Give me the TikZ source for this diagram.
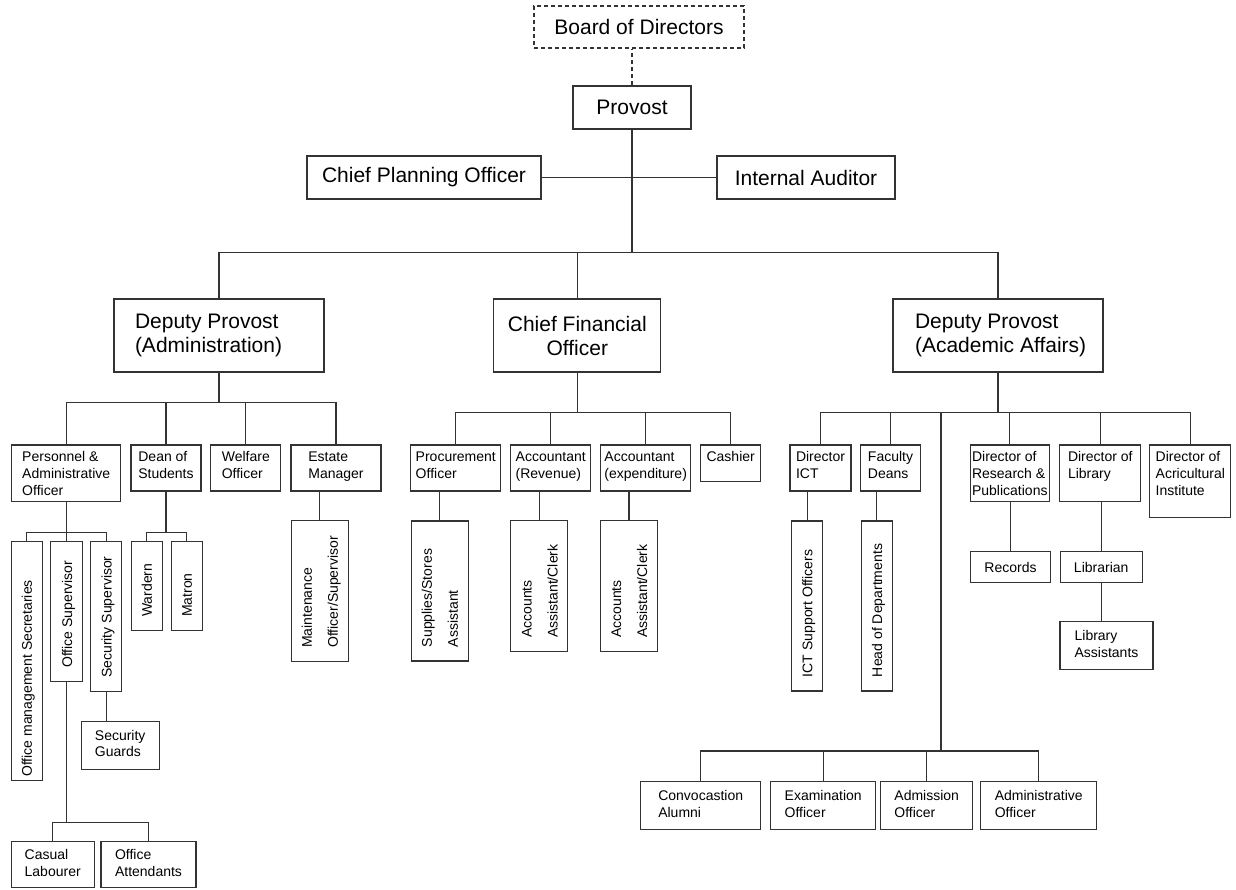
\documentclass[tikz,border=0pt]{standalone}
\usepackage{fontspec}
\setmainfont{Liberation Sans}
\definecolor{linegray}{HTML}{333333}
\newcommand{\orgbig}{\fontsize{21}{24}\selectfont}
\newcommand{\orgsmall}{\fontsize{14}{16.7}\selectfont}
\newcommand{\boxlines}[1]{\begin{tabular}[t]{@{}l@{}}#1\end{tabular}}
\newcommand{\vtext}[2]{\rotatebox{90}{\makebox[#1][l]{\renewcommand{\arraystretch}{1.557}\begin{tabular}{@{}l@{}}#2\end{tabular}}}}

\begin{document}
\begin{tikzpicture}[
  x=1pt, y=-1pt,
  link/.style={draw=linegray, line width=1.3pt},
  box/.style={draw=linegray, line width=1.3pt, inner sep=0pt, font=\orgbig},
  sbox/.style={draw=linegray, line width=1.3pt, inner sep=0pt, font=\orgsmall},
  topbox/.style={sbox, inner ysep=5pt, text height=11.7pt, text depth=#1}
]
  \useasboundingbox (0,0) rectangle (1236,889);

  % top of the chart
  \node[box, dash pattern=on 4pt off 3pt, minimum width=210pt, minimum height=42pt] (board) at (639,27) {Board of Directors};
  \node[box, minimum width=118pt, minimum height=43pt] (provost) at (632,107.5) {Provost};
  \node[box, minimum width=234pt, minimum height=43pt] (planning) at (424,177.5) {Chief Planning Officer};
  \node[box, minimum width=178pt, minimum height=43pt] (auditor) at (806,177.5) {Internal Auditor};
  \node[box, minimum width=210pt, minimum height=73pt] (dpadmin) at (219,335.5) {\makebox[168pt][l]{\boxlines{Deputy Provost\\(Administration)}}};
  \node[box, align=center, minimum width=167pt, minimum height=73pt] (cfo) at (577.3,335.5) {Chief Financial\\Officer};
  \node[box, minimum width=210pt, minimum height=73pt] (dpacad) at (998,335.5) {\makebox[166pt][l]{\boxlines{Deputy Provost\\(Academic Affairs)}}};

  % administration
  \node[topbox=35pt, minimum width=109pt] (personnel) at (66.2,473.3) {\boxlines{Personnel \&\\Administrative\\Officer}};
  \node[topbox=24.3pt, minimum width=70pt] (dean) at (166,468) {\boxlines{Dean of\\Students}};
  \node[topbox=24.3pt, minimum width=70pt] (welfare) at (245.8,468) {\boxlines{Welfare\\Officer}};
  \node[topbox=24.3pt, minimum width=90pt] (estate) at (336,468) {\boxlines{Estate\\Manager}};
  \node[sbox, minimum width=31pt, minimum height=239pt] (secretaries) at (26.7,661.2) {\vtext{231pt}{Office management Secretaries}};
  \node[sbox, minimum width=32pt, minimum height=140pt] (officesup) at (66.8,611.7) {\vtext{112pt}{Office Supervisor}};
  \node[sbox, minimum width=31pt, minimum height=150pt] (securitysup) at (106.3,616.7) {\vtext{122pt}{Security Supervisor}};
  \node[sbox, minimum width=31pt, minimum height=89pt] (wardern) at (146.7,586.3) {\vtext{61pt}{Wardern}};
  \node[sbox, minimum width=31pt, minimum height=89pt] (matron) at (186.7,586.3) {\vtext{61pt}{Matron}};
  \node[sbox, minimum width=57pt, minimum height=141pt] (maintenance) at (319.7,591.3) {\vtext{113pt}{Maintenance\\Officer/Supervisor}};
  \node[sbox, minimum width=78pt, minimum height=48pt] (guards) at (120.2,745.2) {\boxlines{Security\\Guards}};
  \node[sbox, minimum width=83pt, minimum height=46pt] (casual) at (52.7,864.8) {\boxlines{Casual\\Labourer}};
  \node[sbox, minimum width=95pt, minimum height=46pt] (attendants) at (148.5,864.8) {\boxlines{Office\\Attendants}};

  % finance
  \node[topbox=24.3pt, minimum width=90pt] (procurement) at (455.8,468) {\boxlines{Procurement\\Officer}};
  \node[topbox=24.3pt, minimum width=80pt] (revenue) at (550.7,468) {\boxlines{Accountant\\(Revenue)}};
  \node[topbox=24.3pt, minimum width=90pt] (expenditure) at (645.7,468) {\boxlines{Accountant\\(expenditure)}};
  \node[topbox=15pt, minimum width=60pt] (cashier) at (730.7,463.3) {\boxlines{Cashier}};
  \node[sbox, minimum width=57pt, minimum height=140pt] (stores) at (439.7,591) {\vtext{112pt}{Supplies/Stores\\Assistant}};
  \node[sbox, minimum width=57pt, minimum height=131pt] (clerkrev) at (539.3,586.3) {\vtext{103pt}{Accounts\\Assistant/Clerk}};
  \node[sbox, minimum width=57pt, minimum height=131pt] (clerkexp) at (629,586.3) {\vtext{103pt}{Accounts\\Assistant/Clerk}};

  % academic affairs
  \node[topbox=24.3pt, minimum width=61pt] (ict) at (820.5,468) {\boxlines{Director\\ICT}};
  \node[topbox=24.3pt, minimum width=60pt] (deans) at (890.5,468) {\boxlines{Faculty\\Deans}};
  \node[topbox=35pt, minimum width=79pt] (research) at (1009.8,473.3) {\boxlines{Director of\\Research \&\\Publications}};
  \node[topbox=35pt, minimum width=81pt] (library) at (1100.3,473.3) {\boxlines{Director of\\Library}};
  \node[topbox=51pt, minimum width=81pt] (agric) at (1190.3,481.3) {\boxlines{Director of\\Acricultural\\Institute}};
  \node[sbox, minimum width=31pt, minimum height=170pt] (ictsupport) at (807.2,606) {\vtext{142pt}{ICT Support Officers}};
  \node[sbox, minimum width=31pt, minimum height=170pt] (heads) at (876.8,606) {\vtext{142pt}{Head of Departments}};
  \node[sbox, minimum width=80pt, minimum height=31pt] (records) at (1010.5,567) {Records};
  \node[sbox, minimum width=82pt, minimum height=31pt] (librarian) at (1101.2,567) {Librarian};
  \node[sbox, minimum width=93pt, minimum height=48pt] (libassist) at (1106.5,645.5) {\boxlines{Library\\Assistants}};
  \node[sbox, minimum width=120pt, minimum height=48pt] (convocation) at (700.7,805.5) {\boxlines{Convocastion\\Alumni}};
  \node[sbox, minimum width=105pt, minimum height=48pt] (examination) at (823.2,805.5) {\boxlines{Examination\\Officer}};
  \node[sbox, minimum width=92pt, minimum height=48pt] (admission) at (926.7,805.5) {\boxlines{Admission\\Officer}};
  \node[sbox, minimum width=116pt, minimum height=48pt] (adminofficer) at (1038.7,805.5) {\boxlines{Administrative\\Officer}};
  \coordinate (lowbus) at (941,751);

  % connectors
  \draw[link, dash pattern=on 4pt off 3pt] (provost.north) -- (provost.north |- board.south);
  \draw[link] (planning.east) -- (auditor.west);
  \draw[link] (provost.south) -- ++(0,123) coordinate (topbus)
    (topbus) -| (dpadmin.north) (topbus) -| (cfo.north) (topbus) -| (dpacad.north);

  \draw[link] (dpadmin.south) -- ++(0,30) coordinate (admbus)
    (admbus) -| (personnel.north) (admbus) -| (dean.north) (admbus) -| (welfare.north) (admbus) -| (estate.north);
  \draw[link] (personnel.south) -- ++(0,30) coordinate (persbus)
    (persbus) -| (secretaries.north) (persbus) -| (officesup.north) (persbus) -| (securitysup.north);
  \draw[link] (dean.south) -- ++(0,40.7) coordinate (deanbus)
    (deanbus) -| (wardern.north) (deanbus) -| (matron.north);
  \draw[link] (maintenance.north |- estate.south) -- (maintenance.north);
  \draw[link] (securitysup.south) -- (securitysup.south |- guards.north);
  \draw[link] (officesup.south) -- ++(0,140) coordinate (supbus)
    (supbus) -| (casual.north) (supbus) -| (attendants.north);

  \draw[link] (cfo.south) -- ++(0,39.7) coordinate (finbus)
    (finbus) -| (procurement.north) (finbus) -| (revenue.north) (finbus) -| (expenditure.north) (finbus) -| (cashier.north);
  \draw[link] (stores.north |- procurement.south) -- (stores.north)
    (clerkrev.north |- revenue.south) -- (clerkrev.north)
    (clerkexp.north |- expenditure.south) -- (clerkexp.north);

  \draw[link] (dpacad.south) -- ++(0,39.7) coordinate (acadbus)
    (acadbus) -| (ict.north) (acadbus) -| (deans.north) (acadbus) -| (lowbus)
    (acadbus) -| (research.north) (acadbus) -| (library.north) (acadbus) -| (agric.north);
  \draw[link] (lowbus) -| (convocation.north) (lowbus) -| (examination.north)
    (lowbus) -| (admission.north) (lowbus) -| (adminofficer.north);
  \draw[link] (ictsupport.north |- ict.south) -- (ictsupport.north)
    (heads.north |- deans.south) -- (heads.north)
    (records.north |- research.south) -- (records.north)
    (librarian.north |- library.south) -- (librarian.north)
    (librarian.south) -- (librarian.south |- libassist.north);
\end{tikzpicture}
\end{document}
